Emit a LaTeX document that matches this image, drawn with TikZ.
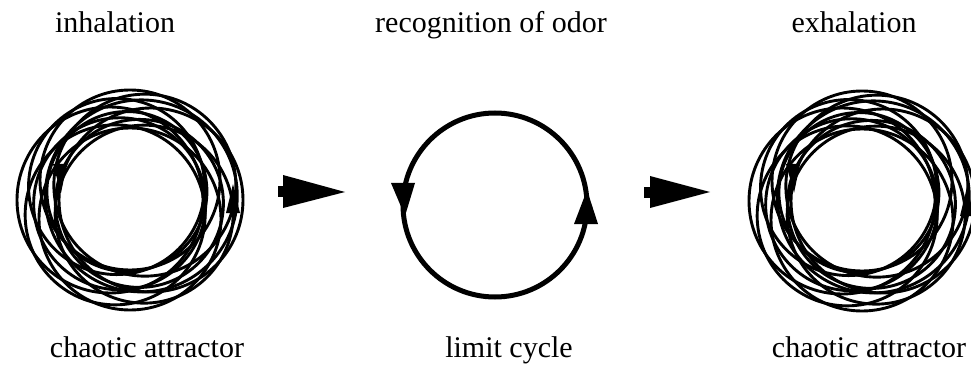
\documentclass[tikz,border=0pt]{standalone}
\usepackage{fontspec}
\setmainfont{Liberation Serif}
\usetikzlibrary{calc}
\begin{document}
\begin{tikzpicture}[x=1pt,y=-1pt,
  lbl/.style={anchor=base,inner sep=0pt,font=\fontsize{30}{36}\selectfont},
  ring/.style={draw=black,line width=2.9pt},
  head/.style={fill=black,draw=none}]
\useasboundingbox (0,0) rectangle (971,374);
% labels
\node[lbl] (t1) at (115,33) {inhalation};
\node[lbl] (t2) at (491,33) {recognition of odor};
\node[lbl] (t3) at (854,33) {exhalation};
\node[lbl] (b1) at (147,357) {chaotic attractor};
\node[lbl] (b2) at (509,357) {limit cycle};
\node[lbl] (b3) at (869,357) {chaotic attractor};
% chaotic attractors
\foreach \cx/\cy in {130/200, 862/201}{
  \foreach \a/\d/\r in {0/21/92, 45/20/89, 90/19/91, 135/21/90, 180/20/93, 225/19/88, 270/20/90, 315/21/91, 20/10/84, 160/11/86, 250/9/80, 340/12/96}{
    \draw[ring] ($(\cx,\cy)+(\a:\d)$) circle[radius=\r];
  }
}
% small arrowheads on attractors
\fill[head] (53,164) -- (67,164) -- (61,193) -- cycle;
\fill[head] (226,213) -- (240,213) -- (233,184) -- cycle;
\fill[head] (786,164) -- (800,164) -- (794,193) -- cycle;
\fill[head] (960,216) -- (974,216) -- (967,187) -- cycle;
% limit cycle
\draw[line width=5pt] (495,205) circle[radius=92];
\fill[head] (391,183) -- (415,183) -- (405,216) -- cycle;
\fill[head] (574,224) -- (598,224) -- (587,190) -- cycle;
% big arrows
\fill[head] (278,186) rectangle (284,197);
\fill[head] (283,175) -- (345,192) -- (283,208) -- cycle;
\fill[head] (644,187) rectangle (651,198);
\fill[head] (650,176) -- (710,192) -- (650,208) -- cycle;
\end{tikzpicture}
\end{document}
